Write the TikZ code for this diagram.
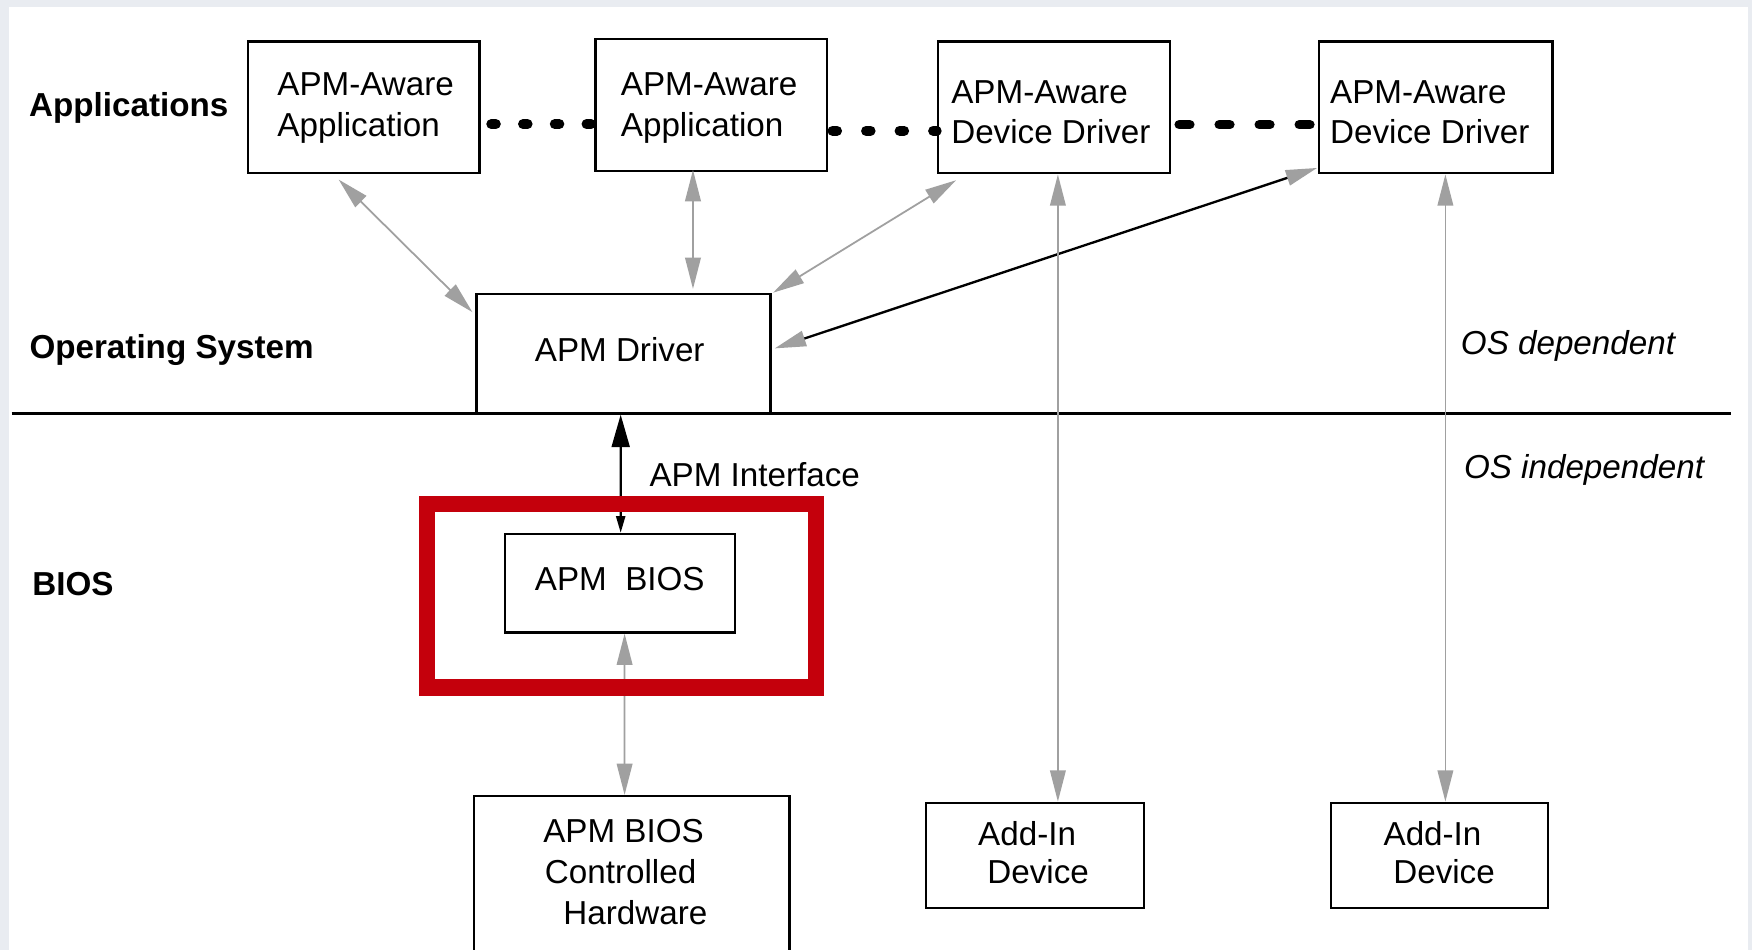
\documentclass[tikz,border=0pt]{standalone}
\usepackage{fontspec}
\setmainfont{Liberation Sans}
\usetikzlibrary{arrows.meta,calc}
\definecolor{framebg}{RGB}{233,236,241}
\definecolor{linkgray}{RGB}{160,160,160}
\definecolor{hired}{RGB}{196,0,12}
\begin{document}
\begin{tikzpicture}[x=0.01cm,y=-0.01cm,
  box/.style={draw, line width=0.6pt, inner sep=0pt},
  lbl/.style={inner sep=0pt, anchor=base west, align=left,
              font=\fontsize{8.45}{10.4}\selectfont},
  layer/.style={lbl, font=\fontsize{8.45}{10.4}\selectfont\bfseries},
  note/.style={lbl, font=\fontsize{8.45}{10.4}\selectfont\itshape},
  garrow/.style={draw=linkgray, line width=0.45pt,
    {Triangle[length=0.28cm,width=0.14cm]}-{Triangle[length=0.28cm,width=0.14cm]}},
  bgarrow/.style={draw=black, line width=0.6pt,
    {Triangle[length=0.28cm,width=0.14cm,color=linkgray]}-{Triangle[length=0.28cm,width=0.14cm,color=linkgray]}},
  ifarrow/.style={draw=black, line width=0.6pt,
    {Triangle[length=0.15cm,width=0.08cm]}-{Triangle[length=0.29cm,width=0.16cm]}},
  dotsA/.style={line width=0.09cm, line cap=round,
    dash pattern=on 0.04cm off 0.244cm, dash phase=0.188cm},
  dotsB/.style={line width=0.09cm, line cap=round,
    dash pattern=on 0.04cm off 0.26cm, dash phase=0.26cm},
  dotsC/.style={line width=0.085cm, line cap=round,
    dash pattern=on 0.095cm off 0.263cm, dash phase=0.2855cm}]

% page frame
\clip (0,0) rectangle (1568,850);
\fill[framebg] (0,0) rectangle (1568,850);
\fill[white] (8,6) rectangle (1564,860);

% layer names
\node[layer] (lapp) at (25.4,104.4) {Applications};
\node[layer] (los) at (25.7,321) {Operating System};
\node[layer] (lbios) at (28.3,533) {BIOS};

% OS dependent / independent divider
\coordinate (sepL) at (10.3,370);
\coordinate (sepR) at (1549.5,370);
\draw[line width=0.7pt] (sepL) -- (sepR);
\node[note] (osdep) at (1306.8,317.6) {OS dependent};
\node[note] (osind) at (1309.6,428) {OS independent};

% boxes
\node[box, minimum width=2.07cm, minimum height=1.18cm] (a1) at (325.5,96) {};
\node[box, minimum width=2.07cm, minimum height=1.18cm] (a2) at (636.5,94) {};
\node[box, minimum width=2.076cm, minimum height=1.18cm] (d1) at (943.2,96) {};
\node[box, minimum width=2.09cm, minimum height=1.18cm] (d2) at (1285,96) {};
\node[box, minimum width=2.63cm, minimum height=1.07cm] (drv) at (558,316.5) {};
\node[box, minimum width=2.056cm, minimum height=0.88cm] (bios) at (554.8,522) {};
\node[box, minimum width=2.82cm, minimum height=1.67cm] (hw) at (565.4,796) {};
\node[box, minimum width=1.95cm, minimum height=0.94cm] (add1) at (926.5,765.5) {};
\node[box, minimum width=1.94cm, minimum height=0.94cm] (add2) at (1288.4,765.5) {};

% box texts (anchored at the baseline of the last line)
\node[lbl] (a1t) at (247.6,122.2) {APM-Aware\\Application};
\node[lbl] (a2t) at (555,122.2) {APM-Aware\\Application};
\node[lbl] (d1t) at (850.7,128.8) {APM-Aware\\Device Driver};
\node[lbl] (d2t) at (1189.8,128.8) {APM-Aware\\Device Driver};
\node[lbl] (drvt) at (478,323.6) {APM Driver};
\node[lbl] (biost) at (478,528.8) {APM\ \ BIOS};
\node[lbl] (hwt) at (485.5,827) {APM BIOS\\\hspace*{0.015cm}Controlled\\\hspace*{0.18cm}Hardware};
\node[lbl, font=\fontsize{8.45}{9.8}\selectfont] (add1t) at (874.8,791.1) {Add-In\\\hspace*{0.082cm}Device};
\node[lbl, font=\fontsize{8.45}{9.8}\selectfont] (add2t) at (1237.6,791.1) {Add-In\\\hspace*{0.087cm}Device};
\node[lbl] (apmif) at (580.6,435.6) {APM Interface};

% dotted chains between the top-row boxes
\draw[dotsA] ($(a1.east)+(0,15)$) -- ($(a2.west)+(0,17)$);
\draw[dotsB] ($(a2.east)+(0,23)$) -- ($(d1.west)+(0,21)$);
\draw[dotsC] ($(d1.east)+(0,15.6)$) -- ($(d2.west)+(0,15.6)$);

% links to the APM driver
\draw[garrow] ($(a1.south)+(-22.4,4.6)$) -- ($(drv.north west)+(-2.6,17.4)$);
\draw[garrow] ($(a2.south)+(-16.3,-2)$) -- ($(drv.north)+(62.2,-3.4)$);
\draw[garrow] ($(d1.south west)+(17.4,5.2)$) -- ($(drv.north east)+(1.3,0)$);
\draw[bgarrow] ($(d2.south west)+(-0.6,-5.8)$) -- ($(drv.east)+(2.7,-4.7)$);

% device drivers to their add-in devices
\draw[garrow] ($(d1.south)+(3.6,0)$) -- ($(add1.north)+(20.3,0)$);
\draw[garrow] ($(d2.south)+(8.6,0)$) -- ($(add2.north)+(5.2,0)$);

% BIOS links
\draw[ifarrow] ($(bios.north)+(0.7,0)$) -- ($(drv.south)+(-2.5,0)$);
\draw[garrow] ($(bios.south)+(4.2,0)$) -- ($(hw.north)+(-6.4,0)$);

% highlight around the APM BIOS
\node[draw=hired, line width=0.145cm, inner sep=0pt,
      minimum width=3.478cm, minimum height=1.64cm] (hl) at (556.2,533.2) {};
\end{tikzpicture}
\end{document}
